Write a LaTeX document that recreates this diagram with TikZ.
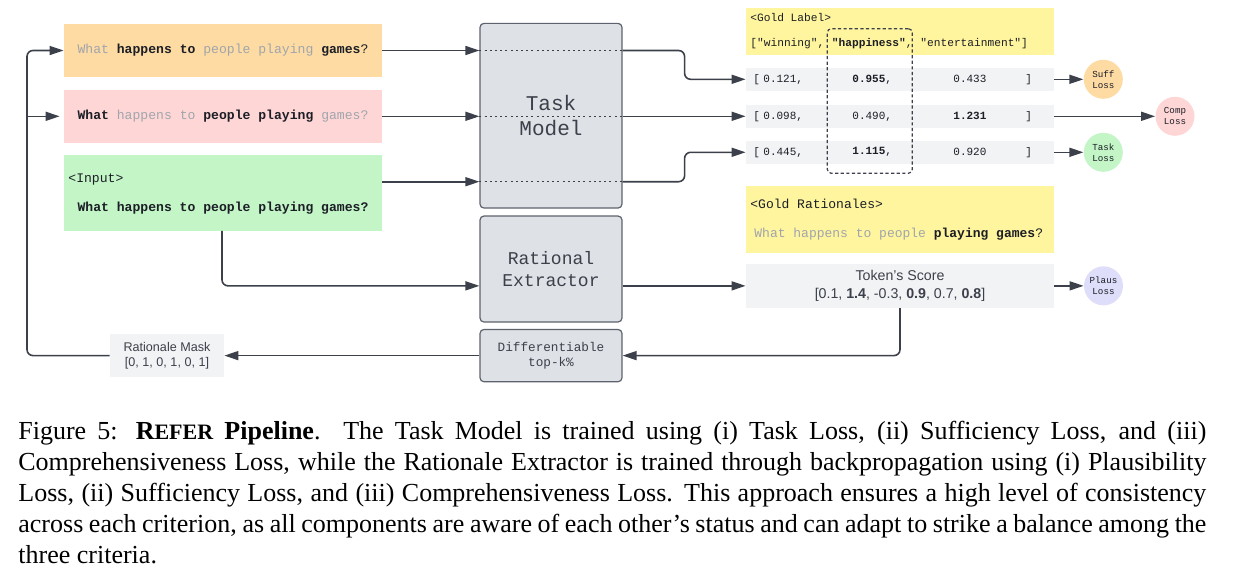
\documentclass[tikz,border=0pt]{standalone}
\usepackage{fontspec}
\setmainfont{Liberation Serif}
\setsansfont{Liberation Sans}
\newfontfamily\codefont{Liberation Mono}
\usetikzlibrary{arrows.meta}
\definecolor{suffc}{RGB}{253,219,163}
\definecolor{compc}{RGB}{255,214,214}
\definecolor{taskc}{RGB}{195,245,199}
\definecolor{goldc}{RGB}{255,245,158}
\definecolor{rowc}{RGB}{242,243,245}
\definecolor{plausc}{RGB}{222,222,250}
\definecolor{modelc}{RGB}{222,225,230}
\definecolor{modeledge}{RGB}{93,99,110}
\definecolor{linec}{RGB}{60,64,74}
\definecolor{dimtxt}{RGB}{160,165,172}
\definecolor{inktxt}{RGB}{28,30,38}

\begin{document}
\begin{tikzpicture}[x=0.5pt,y=-0.5pt,
    flow/.style={draw=linec, line width=0.8pt, -{Triangle[length=7pt,width=4.5pt]}},
    dots/.style={draw=linec, line width=0.7pt, dash pattern=on 1pt off 1.6pt},
    qbox/.style={minimum width=159pt, inner sep=0pt, text=inktxt, font=\codefont\fontsize{6.55}{8}\selectfont},
    qtext/.style={inner sep=0pt, text=inktxt, font=\codefont\fontsize{6.55}{8}\selectfont},
    model/.style={draw=modeledge, fill=modelc, rounded corners=2pt, line width=0.6pt, minimum width=71pt, inner sep=0pt, align=center, text=linec},
    band/.style={minimum width=154pt, inner sep=0pt},
    cell/.style={anchor=west, inner sep=0pt, text=inktxt, font=\codefont\fontsize{5.5}{6.5}\selectfont},
    loss/.style={circle, minimum size=19.5pt, inner sep=0pt, align=center, text=inktxt, font=\codefont\fontsize{4.6}{5.5}\selectfont},
    score/.style={fill=rowc, inner sep=0pt, align=center, text=linec, font=\sffamily\fontsize{7.1}{8.85}\selectfont}]
    \useasboundingbox (0,0) rectangle (1243,579);

    \node[qbox, fill=suffc, minimum height=26.5pt] (suffin) at (223,50.5) {\textcolor{dimtxt}{What} \textbf{happens to} \textcolor{dimtxt}{people playing} \textbf{games}?};
    \node[qbox, fill=compc, minimum height=26.5pt] (compin) at (223,116.3) {\textbf{What} \textcolor{dimtxt}{happens to} \textbf{people playing} \textcolor{dimtxt}{games?}};
    \node[qbox, fill=taskc, minimum height=37.85pt] (inbox) at (223,193) {};
    \node[qtext, anchor=west] (inhead) at (68,179) {<Input>};
    \node[qtext] (inline) at (223,208) {\textbf{What happens to people playing games?}};

    \node[model, minimum height=92.35pt, font=\codefont\fontsize{10.5}{12.5}\selectfont] (task) at (551,115.7) {Task\\Model};
    \node[model, minimum height=53pt, font=\codefont\fontsize{9}{11}\selectfont] (extract) at (551,269) {Rational\\Extractor};
    \node[model, minimum height=26.15pt, font=\codefont\fontsize{6.35}{7.65}\selectfont] (topk) at (551,355.6) {Differentiable\\top-k\%};
    \node[score, minimum width=57pt, minimum height=21.85pt, font=\sffamily\fontsize{6.3}{7.5}\selectfont] (mask) at (167,355.6) {Rationale Mask\\{}[0, 1, 0, 1, 0, 1]};

    \node[band, fill=goldc, minimum height=23.35pt] (goldlabel) at (900,31.35) {};
    \node[cell, font=\codefont\fontsize{5.6}{6.5}\selectfont] (goldhead) at (750,17.3) {<Gold Label>};
    \node[cell, font=\codefont\fontsize{5.6}{6.5}\selectfont] (goldone) at (750,43.3) {["winning",};
    \node[cell, font=\codefont\fontsize{5.6}{6.5}\selectfont] (goldtwo) at (831.5,43.3) {\textbf{"happiness"},};
    \node[cell, font=\codefont\fontsize{5.6}{6.5}\selectfont] (goldthree) at (920,43.3) {"entertainment"]};

    \node[band, fill=rowc, minimum height=11.35pt] (row1) at (900,79.3) {};
    \node[band, fill=rowc, minimum height=11.35pt] (row2) at (900,116.3) {};
    \node[band, fill=rowc, minimum height=11.35pt] (row3) at (900,152.3) {};
    \node[cell] (r1open) at (753,79.3) {[};
    \node[cell] (r1a) at (763,79.3) {0.121,};
    \node[cell] (r1b) at (852,79.3) {\textbf{0.955},};
    \node[cell] (r1c) at (953,79.3) {0.433};
    \node[cell] (r1close) at (1025,79.3) {]};
    \node[cell] (r2open) at (753,116.3) {[};
    \node[cell] (r2a) at (763,116.3) {0.098,};
    \node[cell] (r2b) at (852,116.3) {0.490,};
    \node[cell] (r2c) at (953,116.3) {\textbf{1.231}};
    \node[cell] (r2close) at (1025,116.3) {]};
    \node[cell] (r3open) at (753,152.3) {[};
    \node[cell] (r3a) at (763,152.3) {0.445,};
    \node[cell] (r3b) at (852,152.3) {\textbf{1.115},};
    \node[cell] (r3c) at (953,152.3) {0.920};
    \node[cell] (r3close) at (1025,152.3) {]};
    \node[draw=linec, line width=0.6pt, dash pattern=on 1.6pt off 1.2pt, rounded corners=2pt, minimum width=42.5pt, minimum height=72.3pt, inner sep=0pt] (pick) at (869.8,101) {};

    \node[loss, fill=suffc] (suff) at (1103.3,79.3) {Suff\\Loss};
    \node[loss, fill=compc] (comp) at (1175,116.3) {Comp\\Loss};
    \node[loss, fill=taskc] (taskloss) at (1103.3,152.3) {Task\\Loss};

    \node[band, fill=goldc, minimum height=33.65pt] (goldrat) at (900,219.7) {};
    \node[cell, font=\codefont\fontsize{6.5}{8}\selectfont] (rathead) at (750,204.3) {<Gold Rationales>};
    \node[cell, font=\codefont\fontsize{6.5}{8}\selectfont] (ratline) at (754,234) {\textcolor{dimtxt}{What happens to people} \textbf{playing games}?};
    \node[score, minimum width=154pt, minimum height=21.85pt] (tokscore) at (900,285.85) {Token's Score\\{}[0.1, \textbf{1.4}, -0.3, \textbf{0.9}, 0.7, \textbf{0.8}]};
    \node[loss, fill=plausc] (plaus) at (1103.5,285.85) {Plaus\\Loss};

    \coordinate (lefttop) at (27,50.5);
    \coordinate (leftmid) at (27,116.3);
    \coordinate (leftbot) at (27,355.6);
    \coordinate (inout) at (382,181.7);
    \coordinate (indrop) at (222,230.85);

    \draw[flow] (suffin.east) -- (suffin.east -| task.west);
    \draw[flow] (compin.east) -- (compin.east -| task.west);
    \draw[flow] (inout) -- (inout -| task.west);
    \draw[dots] (suffin.east -| task.west) -- (suffin.east -| task.east);
    \draw[dots] (compin.east -| task.west) -- (compin.east -| task.east);
    \draw[dots] (inout -| task.west) -- (inout -| task.east);
    \draw[flow, rounded corners=3pt] (suffin.east -| task.east) -- ++(62,0) |- (row1.west);
    \draw[flow] (compin.east -| task.east) -- (row2.west);
    \draw[flow, rounded corners=3pt] (inout -| task.east) -- ++(62,0) |- (row3.west);
    \draw[flow] (row1.east) -- (suff.west);
    \draw[flow] (row2.east) -- (comp.west);
    \draw[flow] (row3.east) -- (taskloss.west);
    \draw[flow, rounded corners=3pt] (indrop) |- (extract.west |- tokscore.west);
    \draw[flow] (extract.east |- tokscore.west) -- (tokscore.west);
    \draw[flow] (tokscore.east) -- (plaus.west);
    \draw[flow, rounded corners=3pt] (tokscore.south) |- (topk.east);
    \draw[flow] (topk.west) -- (mask.east);
    \draw[flow, rounded corners=3pt] (mask.west) -- (leftbot) -- (lefttop) -- (suffin.west);
    \draw[flow] (leftmid) -- ([xshift=-2pt]compin.west);

    \node[anchor=north west, text width=594pt, inner sep=0pt, align=justify, font=\fontsize{13}{15.5}\selectfont] (caption) at (18,421) {Figure 5: \textbf{R{\fontsize{11}{12}\selectfont EFER} Pipeline}. The Task Model is trained using (i) Task Loss, (ii) Sufficiency Loss, and (iii)\linebreak Comprehensiveness Loss, while the Rationale Extractor is trained through backpropagation using (i) Plausibility\linebreak Loss, (ii) Sufficiency Loss, and (iii) Comprehensiveness Loss. This approach ensures a high level of consistency\linebreak across each criterion, as all components are aware of each other's status and can adapt to strike a balance among the\linebreak three criteria.};
\end{tikzpicture}
\end{document}
